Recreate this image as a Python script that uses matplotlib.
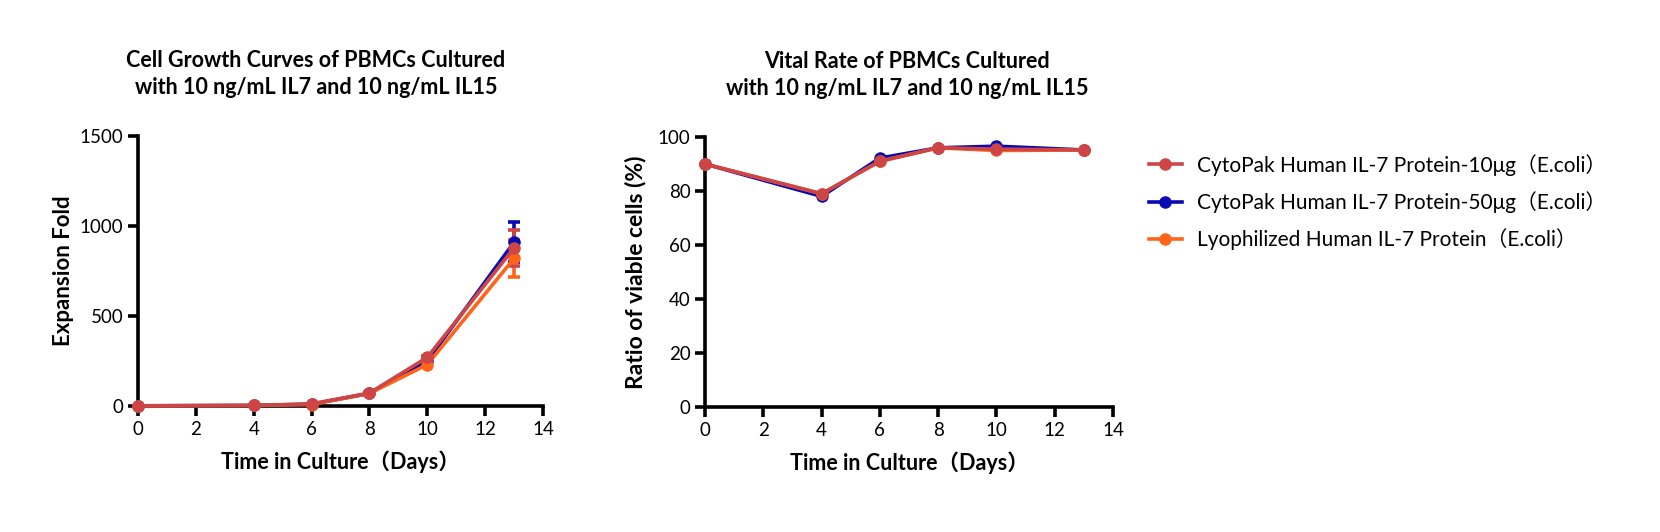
import matplotlib
matplotlib.use("Agg")
import matplotlib.pyplot as plt
from matplotlib.lines import Line2D

plt.rcParams["font.family"] = ["Lato", "Noto Sans CJK SC", "DejaVu Sans"]

days = [0, 4, 6, 8, 10, 13]

series_names = [
    "CytoPak Human IL-7 Protein-10μg（E.coli）",
    "CytoPak Human IL-7 Protein-50μg（E.coli）",
    "Lyophilized Human IL-7 Protein（E.coli）",
]
series_colors = ["#CD4545", "#0A0AB4", "#FF6418"]

# expansion fold
fold_10ug = [1, 3, 12, 72, 270, 878]
fold_50ug = [1, 3, 10, 70, 250, 910]
fold_lyo = [1, 3, 8, 70, 230, 820]
fold_err_10ug = [0, 0, 1, 4, 10, 100]
fold_err_50ug = [0, 0, 1, 4, 10, 112]
fold_err_lyo = [0, 0, 1, 4, 10, 105]

# viability (%)
via_10ug = [90, 79, 91, 96, 95.5, 95.2]
via_50ug = [90, 78, 92.2, 96, 96.6, 95.2]
via_lyo = [90, 79, 91, 96, 95, 95.2]

fold = {0: (fold_10ug, fold_err_10ug), 1: (fold_50ug, fold_err_50ug), 2: (fold_lyo, fold_err_lyo)}
via = {0: via_10ug, 1: via_50ug, 2: via_lyo}
draw_order = [1, 2, 0]

fig = plt.figure(figsize=(16.6, 5.32), dpi=100)
ax1 = fig.add_axes([138 / 1660, 1 - 406 / 532, 405 / 1660, 270 / 532])
ax2 = fig.add_axes([705 / 1660, 1 - 407 / 532, 408 / 1660, 270 / 532])

for i in draw_order:
    y, e = fold[i]
    ax1.errorbar(days, y, yerr=e, color=series_colors[i], lw=2.6, marker="o",
                 ms=8, capsize=4, capthick=2.6, elinewidth=2.6, clip_on=False, zorder=3)
    ax2.plot(days, via[i], color=series_colors[i], lw=2.6, marker="o", ms=8,
             clip_on=False, zorder=3)

for ax in (ax1, ax2):
    ax.spines["top"].set_visible(False)
    ax.spines["right"].set_visible(False)
    ax.spines["left"].set_linewidth(2.6)
    ax.spines["bottom"].set_linewidth(2.6)
    ax.set_xlim(0, 14)
    ax.set_xticks(range(0, 15, 2))
    ax.tick_params(axis="both", width=2.6, length=7, labelsize=13.5, direction="out")
    ax.set_xlabel("Time in Culture（Days）", fontsize=15.5, fontweight="bold", labelpad=9)

ax1.set_ylim(0, 1500)
ax1.set_yticks([0, 500, 1000, 1500])
ax1.set_ylabel("Expansion Fold", fontsize=16, fontweight="bold", labelpad=4)

ax2.set_ylim(0, 100)
ax2.set_yticks(range(0, 101, 20))
ax2.set_ylabel("Ratio of viable cells (%)", fontsize=16.5, fontweight="bold", labelpad=8)

fig.text(316 / 1660, 1 - 74 / 532,
         "Cell Growth Curves of PBMCs Cultured\nwith 10 ng/mL IL7 and 10 ng/mL IL15",
         ha="center", va="center", fontsize=15.5, fontweight="bold", linespacing=1.3)
fig.text(907 / 1660, 1 - 75 / 532,
         "Vital Rate of PBMCs Cultured\nwith 10 ng/mL IL7 and 10 ng/mL IL15",
         ha="center", va="center", fontsize=15.5, fontweight="bold", linespacing=1.3)

handles = [Line2D([], [], color=c, lw=2.6, marker="o", ms=8) for c in series_colors]
fig.legend(handles, series_names, loc="upper left", bbox_to_anchor=(1130 / 1660, 1 - 135 / 532),
           frameon=False, fontsize=15, handlelength=1.6, handletextpad=0.7,
           labelspacing=0.75)

fig.savefig("out.png", dpi=100)
